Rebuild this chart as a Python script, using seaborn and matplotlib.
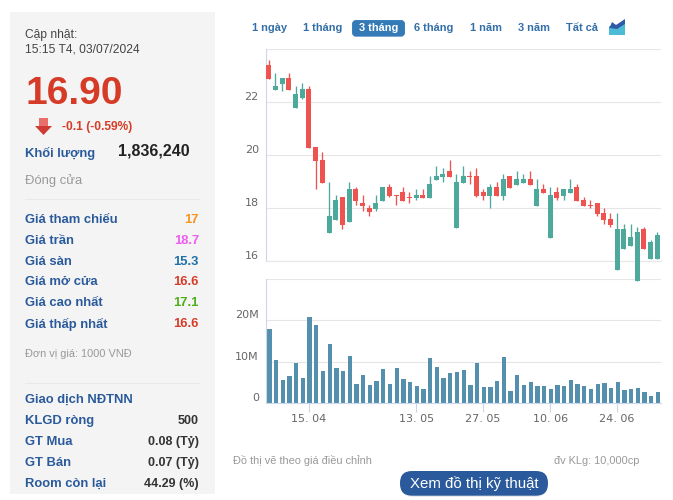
import matplotlib
matplotlib.use("Agg")
import matplotlib.pyplot as plt
import matplotlib.patches as patches
import pandas as pd
import seaborn as sns

W, H = 673, 500

# candles, one entry per session
price_high = [23.60, 23.11, 22.92, 23.11, 22.62, 22.73, 22.62, 20.31, 20.13, 18.99,
              18.50, 18.43, 18.99, 18.81, 18.50, 18.13, 18.50, 18.81, 18.92, 18.50,
              18.81, 18.62, 18.73, 18.73, 19.22, 19.60, 19.52, 19.82, 19.30, 19.60,
              19.41, 19.52, 18.73, 18.92, 18.99, 19.30, 19.22, 19.41, 19.30, 19.41,
              19.11, 18.92, 18.81, 18.81, 18.73, 19.11, 18.92, 18.43, 18.31, 18.20,
              18.01, 17.82, 17.82, 17.41, 17.41, 17.30, 17.30, 16.81, 17.11]
body_top = [23.41, 22.62, 22.92, 22.92, 22.31, 22.50, 22.50, 20.31, 19.82, 17.71,
            18.31, 18.43, 18.73, 18.73, 18.20, 18.01, 18.20, 18.81, 18.81, 18.50,
            18.62, 18.43, 18.50, 18.50, 18.92, 19.22, 19.30, 19.41, 18.99, 19.22,
            19.22, 19.22, 18.62, 18.81, 18.81, 19.11, 19.22, 19.11, 19.11, 19.11,
            18.73, 18.73, 18.50, 18.62, 18.73, 18.73, 18.81, 18.31, 18.13, 18.20,
            17.82, 17.60, 17.22, 17.22, 16.92, 17.11, 17.22, 16.73, 16.99]
body_bottom = [22.89, 22.47, 22.69, 22.47, 21.79, 22.16, 20.28, 19.79, 18.96, 17.07,
               17.56, 17.37, 17.48, 18.28, 18.09, 17.86, 17.97, 18.28, 18.47, 18.47,
               18.28, 18.39, 18.39, 18.39, 18.39, 19.07, 19.18, 19.18, 17.26, 18.96,
               19.18, 18.47, 18.47, 18.47, 18.47, 18.47, 18.77, 18.88, 18.96, 18.88,
               18.09, 18.58, 16.88, 18.39, 18.47, 18.58, 18.28, 18.09, 18.09, 17.79,
               17.56, 17.37, 15.67, 16.47, 16.58, 15.26, 16.47, 16.09, 16.09]
price_low = [22.89, 22.47, 22.43, 22.47, 21.79, 22.11, 20.28, 18.73, 18.96, 17.07,
             17.56, 17.22, 17.48, 18.13, 17.90, 17.71, 17.90, 18.28, 18.43, 18.13,
             18.28, 18.20, 18.31, 18.39, 18.39, 19.07, 18.99, 19.18, 17.26, 18.96,
             18.92, 18.43, 18.31, 18.01, 18.47, 18.31, 18.77, 18.88, 18.96, 18.88,
             18.09, 18.58, 16.88, 18.31, 18.31, 18.58, 18.28, 18.09, 18.01, 17.71,
             17.41, 17.30, 15.67, 16.47, 16.58, 15.26, 16.47, 16.09, 16.09]
candle_kind = ["d", "g", "g", "d", "g", "g", "d", "d", "d", "g",
               "g", "d", "g", "d", "d", "d", "g", "g", "d", "d",
               "d", "d", "g", "d", "g", "g", "g", "d", "g", "g",
               "d", "d", "d", "g", "d", "g", "d", "g", "g", "d",
               "g", "d", "g", "d", "g", "g", "d", "d", "d", "d",
               "d", "d", "g", "g", "g", "g", "d", "g", "g"]
volume_m = [17.9, 10.4, 5.6, 6.6, 9.7, 6.1, 20.8, 18.9, 7.8, 14.3,
            8.5, 7.8, 11.4, 4.7, 6.8, 4.4, 5.4, 8.3, 4.7, 8.5,
            5.9, 5.1, 4.2, 3.5, 10.9, 8.8, 6.1, 7.3, 7.6, 8.1,
            4.5, 9.6, 4.0, 4.0, 5.4, 11.1, 3.0, 6.7, 4.5, 5.2,
            4.2, 4.2, 3.5, 4.5, 4.2, 5.7, 4.7, 4.2, 3.5, 4.7,
            5.0, 3.7, 5.2, 3.3, 3.5, 3.7, 2.8, 1.8, 2.8]

date_idx = [6, 22, 32, 42, 52]
date_labels = ["15. 04", "13. 05", "27. 05", "10. 06", "24. 06"]
price_ticks = [16, 18, 20, 22, 24]
price_tick_labels = ["16", "18", "20", "22", ""]
vol_ticks = [0, 10, 20, 30]
vol_tick_labels = ["0", "10M", "20M", ""]

range_buttons = ["1 ngày", "1 tháng", "3 tháng", "6 tháng", "1 năm", "3 năm", "Tất cả"]
range_x = [270, 323, 378.5, 433.7, 485.7, 533.7, 581.7]

quote_rows = ["Giá tham chiếu", "Giá trần", "Giá sàn", "Giá mở cửa", "Giá cao nhất", "Giá thấp nhất"]
quote_values = ["17", "18.7", "15.3", "16.6", "17.1", "16.6"]
quote_colors = ["#f7941d", "#ee5cf0", "#1f6fa8", "#d63b27", "#4caf14", "#d63b27"]
quote_y = [219.7, 240.7, 261.7, 282.3, 303.3, 324.3]

foreign_rows = ["KLGD ròng", "GT Mua", "GT Bán", "Room còn lại"]
foreign_values = ["500", "0.08 (Tỷ)", "0.07 (Tỷ)", "44.29 (%)"]
foreign_y = [420.7, 441.7, 462.7, 483.7]

sns.set_theme(style="white")
plt.rcParams["font.family"] = ["Liberation Sans", "DejaVu Sans"]

BLUE = "#2a5a9b"
RED = "#d63b27"
GREEN_C = "#4ca99c"
RED_C = "#ef5350"
VOL_C = "#5490ae"
GRID = "#e6e6e6"
AXIS = "#ccd6eb"


def fs(px):
    return px * 0.72


def rect(left, top, right, bottom):
    return [left / W, 1 - bottom / H, (right - left) / W, (bottom - top) / H]


fig = plt.figure(figsize=(W / 100, H / 100), dpi=100, facecolor="white")

# page layer in pixel coordinates
page = fig.add_axes([0, 0, 1, 1], zorder=0)
page.set_xlim(0, W)
page.set_ylim(H, 0)
page.axis("off")
page.add_patch(patches.Rectangle((10, 12), 205, 482, fc="#f4f4f4", ec="none"))
for yy in [198.5, 383.3]:
    page.plot([25, 200], [yy, yy], color="#e8e8e8", lw=0.72)


def label(x, y, s, px=13, color=BLUE, weight="bold", ha="left"):
    page.text(x, y, s, fontsize=fs(px), color=color, fontweight=weight, ha=ha, va="center")


label(25, 35, "Cập nhật:", 12, "#444444", "normal")
label(25, 49, "15:15 T4, 03/07/2024", 12, "#444444", "normal")
label(25, 94, "16.90", 39, RED)
page.add_patch(patches.Rectangle((39, 118), 9, 8, fc="#ea6f6c", ec="none"))
page.add_patch(patches.Polygon([(35, 126), (52, 126), (43.5, 135)], fc="#cf3a33", ec="none"))
label(62, 127, "-0.1 (-0.59%)", 12, RED)
label(25, 153.5, "Khối lượng", 13)
label(190, 151.5, "1,836,240", 16, "#222222", ha="right")
label(25, 181, "Đóng cửa", 13, "#999999", "normal")
for name, val, col, yy in zip(quote_rows, quote_values, quote_colors, quote_y):
    label(25, yy, name, 13)
    label(199, yy, val, 13, col, ha="right")
label(25, 354.3, "Đơn vị giá: 1000 VNĐ", 11, "#999999", "normal")
label(25, 399.3, "Giao dịch NĐTNN", 13)
for name, val, yy in zip(foreign_rows, foreign_values, foreign_y):
    label(25, yy, name, 13)
    label(199, yy, val, 12.5, "#333333", ha="right")

# range selector
page.add_patch(patches.FancyBboxPatch((354, 22), 49, 12.7, boxstyle="round,pad=0,rounding_size=2",
                                      mutation_aspect=1, fc="#337ab7", ec="#337ab7", lw=2.8))
for name, xx in zip(range_buttons, range_x):
    label(xx, 28.3, name, 11, "white" if name == "3 tháng" else "#336ea8", ha="center")
page.add_patch(patches.Polygon([(609, 35), (609, 26), (617, 27), (625, 22), (625, 35)], fc="#4dbbd5", ec="none"))
page.add_patch(patches.Polygon([(609, 29), (612, 22), (616, 25), (625, 19), (625, 24), (617, 29), (610, 28)],
                               fc="#2f5aa8", ec="none"))

label(233, 461, "Đồ thị vẽ theo giá điều chỉnh", 11, "#999999", "normal")
label(639.5, 461, "đv KLg: 10,000cp", 11, "#999999", "normal", ha="right")
page.add_patch(patches.FancyBboxPatch((401, 472.5), 146, 24.5, boxstyle="round,pad=0,rounding_size=12",
                                      fc="#dddddd", ec="none", alpha=0.6))
page.add_patch(patches.FancyBboxPatch((400, 471), 148, 24.7, boxstyle="round,pad=0,rounding_size=12",
                                      fc=BLUE, ec="none"))
label(474, 483.5, "Xem đồ thị kỹ thuật", 15, "white", "normal", ha="center")

candles = pd.DataFrame({
    "idx": range(len(price_high)),
    "high": price_high,
    "low": price_low,
    "top": body_top,
    "bottom": body_bottom,
    "kind": candle_kind,
})
candles["height"] = candles["top"] - candles["bottom"]
volumes = pd.DataFrame({"idx": range(len(volume_m)), "volume": volume_m})

# volume panel goes under the price panel, the long candles hang over it
ax_vol = fig.add_axes(rect(265.7, 278.8, 661, 403.3), zorder=1)
ax_vol.patch.set_visible(False)
sns.barplot(data=volumes, x="idx", y="volume", native_scale=True, errorbar=None, ax=ax_vol,
            color=VOL_C, saturation=1, width=0.64, linewidth=0)
ax_vol.set_xlim(-0.55, 58.45)
ax_vol.set_ylim(0, 30)
ax_vol.set_yticks(vol_ticks, vol_tick_labels)
ax_vol.set_xticks([i - 0.1 for i in date_idx], date_labels)
ax_vol.set_xlabel("")
ax_vol.set_ylabel("")

ax_price = fig.add_axes(rect(265.7, 49.3, 661, 261.3), zorder=2)
ax_price.patch.set_visible(False)
for kind, color in [("g", GREEN_C), ("d", RED_C)]:
    part = candles[candles["kind"] == kind]
    ax_price.vlines(part["idx"], part["low"], part["high"], color=color, lw=0.95, clip_on=False, zorder=3)
    sns.barplot(data=part, x="idx", y="height", bottom=part["bottom"].to_numpy(), native_scale=True,
                errorbar=None, ax=ax_price, color=color, saturation=1, width=0.75, linewidth=0, zorder=4)
for bar in ax_price.patches:
    bar.set_clip_on(False)
ax_price.set_xlim(-0.45, 58.55)
ax_price.set_ylim(16, 24)
ax_price.set_yticks(price_ticks, price_tick_labels)
ax_price.set_xticks([])
ax_price.set_xlabel("")
ax_price.set_ylabel("")

for ax in [ax_price, ax_vol]:
    sns.despine(ax=ax, top=True, right=True)
    ax.spines["left"].set_color(AXIS)
    ax.spines["left"].set_linewidth(0.8)
    ax.spines["bottom"].set_color(AXIS)
    ax.spines["bottom"].set_linewidth(0.8)
    ax.set_axisbelow(True)
    ax.grid(axis="y", color=GRID, lw=0.8)
    ax.tick_params(axis="y", length=0, pad=5, labelsize=8, labelcolor="#666666")
    for tick in ax.get_yticklabels():
        tick.set_fontfamily("DejaVu Sans")
        tick.set_verticalalignment("bottom")
ax_price.spines["bottom"].set_color(GRID)
ax_vol.tick_params(axis="x", length=6.5, width=0.8, color=AXIS, pad=1, labelsize=8, labelcolor="#666666", bottom=True)
for tick in ax_vol.get_xticklabels():
    tick.set_fontfamily("DejaVu Sans")

fig.savefig("out.png", dpi=100)
